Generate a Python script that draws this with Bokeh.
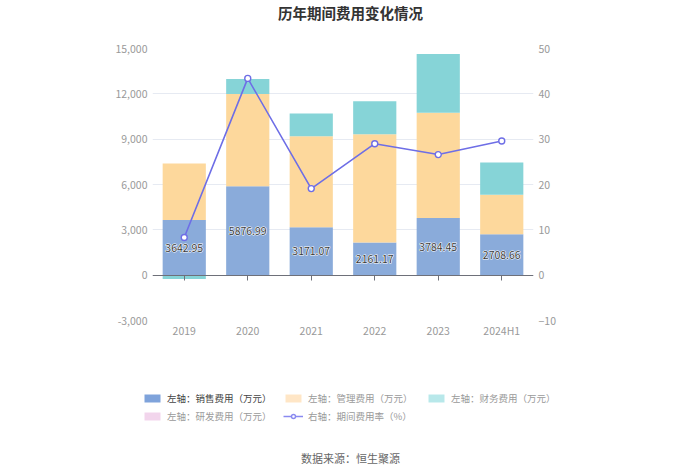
from bokeh.plotting import figure
from bokeh.layouts import column
from bokeh.models import (FactorRange, Range1d, LinearAxis, CategoricalAxis, FixedTicker,
                          NumeralTickFormatter, Label, Legend, LegendItem, ColumnDataSource)
from bokeh.core.properties import value
from bokeh.embed import file_html
from bokeh.resources import INLINE

# ---------------- data ----------------
categories = ["2019", "2020", "2021", "2022", "2023", "2024H1"]
sales = [3642.95, 5876.99, 3171.07, 2161.17, 3784.45, 2708.66]   # 销售费用（万元）
mgmt = [3750, 6110, 6030, 7170, 6960, 2620]                      # 管理费用（万元）
finance = [-250, 990, 1505, 2170, 3890, 2120]                    # 财务费用（万元）
rnd = [0, 0, 0, 0, 0, 0]                                         # 研发费用（万元）
rate = [8.3, 43.4, 19.1, 29.0, 26.6, 29.6]                       # 期间费用率（%）
left_ticks = [-3000, 0, 3000, 6000, 9000, 12000, 15000]
right_ticks = [-10, 0, 10, 20, 30, 40, 50]

FONT = "Noto Sans CJK SC"
C_SALES = "#8AABDA"
C_MGMT = "#FDD89C"
C_FIN = "#86D4D7"
C_RND = "#F2D5EC"
C_LINE = "#6E6EE6"
W = 700


def blank(height):
    f = figure(width=W, height=height, x_range=Range1d(0, 1), y_range=Range1d(0, 1),
               x_axis_type=None, y_axis_type=None, output_backend="svg", toolbar_location=None,
               min_border=0, frame_align=False)
    f.outline_line_color = None
    f.xgrid.visible = False
    f.ygrid.visible = False
    return f


# ---------------- title strip ----------------
p_top = blank(40)
p_top.add_layout(Label(x=350, y=28, x_units="screen", y_units="screen", text="历年期间费用变化情况",
                       text_align="center", text_baseline="middle", text_font=FONT,
                       text_font_size="14.5px", text_font_style="bold", text_color="#333333"))

# ---------------- main chart ----------------
n = len(categories)
pos = [0.0] * n
neg = [0.0] * n
stacks = []
for vals in (sales, mgmt, finance, rnd):
    b, t = [], []
    for i, v in enumerate(vals):
        if v >= 0:
            b.append(pos[i]); t.append(pos[i] + v); pos[i] += v
        else:
            b.append(neg[i]); t.append(neg[i] + v); neg[i] += v
    stacks.append((b, t))

p = figure(x_range=FactorRange(*categories), y_range=Range1d(-3000, 15000),
           width=W, height=310, output_backend="svg", toolbar_location=None,
           min_border_left=152, min_border_right=167, min_border_top=8, min_border_bottom=30,
           frame_align=False)
p.extra_y_ranges = {"rate": Range1d(-10, 50)}
p.outline_line_color = None

p.yaxis.ticker = FixedTicker(ticks=left_ticks)
p.yaxis.formatter = NumeralTickFormatter(format="0,0")
p.yaxis.axis_line_color = None
p.yaxis.major_tick_line_color = None
p.yaxis.major_tick_out = 0
p.yaxis.minor_tick_line_color = None
p.yaxis.major_label_text_color = "#999999"
p.yaxis.major_label_text_font = FONT
p.yaxis.major_label_text_font_size = "10.5px"
p.yaxis.major_label_standoff = 5
p.ygrid.grid_line_color = "#E6EAF2"
p.xgrid.grid_line_color = None

ra = LinearAxis(y_range_name="rate", ticker=FixedTicker(ticks=right_ticks))
ra.axis_line_color = None
ra.major_tick_line_color = None
ra.major_tick_out = 0
ra.minor_tick_line_color = None
ra.major_label_text_color = "#999999"
ra.major_label_text_font = FONT
ra.major_label_text_font_size = "10.5px"
ra.major_label_standoff = 5
p.add_layout(ra, "right")

xax = p.xaxis[0]
xax.axis_line_color = None
xax.major_tick_line_color = None
xax.major_tick_out = 0
xax.major_label_text_color = "#999999"
xax.major_label_text_font = FONT
xax.major_label_text_font_size = "10.5px"
xax.major_label_standoff = 2

za = CategoricalAxis(fixed_location=0)
za.axis_line_color = "#6E7079"
za.major_tick_line_color = "#6E7079"
za.major_tick_in = 0
za.major_tick_out = 5
za.major_label_text_alpha = 0
za.major_label_text_font_size = "1px"
za.major_label_standoff = 0
p.add_layout(za, "below")
p.below = [za, xax]

w = 0.68
for (b, t), col in zip(stacks, (C_SALES, C_MGMT, C_FIN, C_RND)):
    p.vbar(x=categories, bottom=b, top=t, width=w, fill_color=col, line_color=None)

p.line(x=categories, y=rate, y_range_name="rate", line_color=C_LINE, line_width=1.6)
p.scatter(x=categories, y=rate, y_range_name="rate", marker="circle", size=6,
          fill_color="white", line_color=C_LINE, line_width=1.4)

lab_src = ColumnDataSource(dict(x=categories, y=[v / 2 for v in sales],
                                t=["%.2f" % v for v in sales]))
p.text(x="x", y="y", text="t", source=lab_src, text_align="center", text_baseline="middle",
       text_font=value(FONT), text_font_size="10.5px", text_color="white",
       text_outline_color="white")
p.text(x="x", y="y", text="t", source=lab_src, text_align="center", text_baseline="middle",
       text_font=value(FONT), text_font_size="10.5px", text_color="#3A3A3A")

# ---------------- legend + source strip ----------------
p_bot = blank(124)
OFF = [-5]   # legend-only renderers sit outside the visible range


def dummy_bar(col):
    return p_bot.vbar(x=OFF, top=OFF, bottom=[-6], width=0.5, fill_color=col, line_color=None)


r_s = dummy_bar("#7FA3DB")
r_m = dummy_bar("#FFE6C6")
r_f = dummy_bar("#B8E8EA")
r_r = dummy_bar(C_RND)
r_l1 = p_bot.line(x=OFF, y=OFF, line_color="#8A8AF0", line_width=1.5)
r_l2 = p_bot.scatter(x=OFF, y=OFF, marker="circle", size=8, fill_color="white",
                     line_color="#8A8AF0", line_width=1.4)


def add_legend(label, renderers, x, y, color):
    lg = Legend(items=[LegendItem(label=label, renderers=renderers)], location=(x, y),
                padding=0, margin=0, spacing=0, border_line_alpha=0, background_fill_alpha=0,
                glyph_width=20, glyph_height=10, label_height=12, label_standoff=5,
                label_text_font=FONT, label_text_font_size="9.5px", label_text_color=color)
    p_bot.add_layout(lg, "center")


add_legend("左轴：销售费用（万元）", [r_s], 142, 69, "#444444")
add_legend("左轴：管理费用（万元）", [r_m], 283, 69, "#9A9A9A")
add_legend("左轴：财务费用（万元）", [r_f], 426, 69, "#9A9A9A")
add_legend("左轴：研发费用（万元）", [r_r], 142, 51, "#9A9A9A")
add_legend("右轴：期间费用率（%）", [r_l1, r_l2], 283, 51, "#9A9A9A")

p_bot.add_layout(Label(x=350, y=17, x_units="screen", y_units="screen", text="数据来源：恒生聚源",
                       text_align="center", text_baseline="middle", text_font=FONT,
                       text_font_size="11px", text_color="#666666"))

layout = column(p_top, p, p_bot, spacing=0)
open("out.html", "w").write(file_html(layout, INLINE))
